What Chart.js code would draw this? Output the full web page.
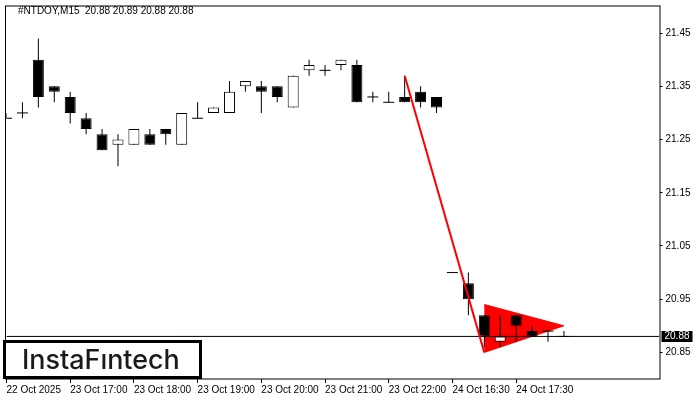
<!DOCTYPE html>
<html>
<head>
<meta charset="utf-8">
<script src="https://cdn.jsdelivr.net/npm/chart.js@4.4.1/dist/chart.umd.min.js"></script>
<style>
  html, body { margin: 0; padding: 0; background: #fff; }
  #wrap { width: 700px; height: 400px; }
</style>
</head>
<body>
<div id="wrap"><canvas id="priceChart"></canvas></div>
<script>
const symbolTitle = '#NTDOY,M15  20.88 20.89 20.88 20.88';
const brandName = 'InstaF\u0131ntech';

// M15 candles, oldest first
const opens  = [21.29, 21.30, 21.40, 21.35, 21.33, 21.29, 21.26, 21.24, 21.24, 21.26, 21.27, 21.24,
                21.29, 21.30, 21.30, 21.35, 21.35, 21.35, 21.31, 21.38, 21.38, 21.39, 21.39, 21.33,
                21.32, 21.33, 21.34, 21.33, 21.00, 20.98, 20.92, 20.87, 20.92, 20.89, 20.89, 20.88];
const highs  = [21.30, 21.32, 21.44, 21.35, 21.34, 21.30, 21.27, 21.26, 21.27, 21.27, 21.27, 21.30,
                21.32, 21.31, 21.36, 21.36, 21.36, 21.35, 21.37, 21.40, 21.39, 21.40, 21.40, 21.34,
                21.34, 21.37, 21.35, 21.33, 21.00, 21.00, 20.92, 20.92, 20.92, 20.90, 20.89, 20.89];
const lows   = [21.29, 21.29, 21.31, 21.32, 21.28, 21.26, 21.23, 21.20, 21.24, 21.24, 21.24, 21.24,
                21.29, 21.30, 21.30, 21.34, 21.30, 21.32, 21.31, 21.37, 21.37, 21.38, 21.32, 21.32,
                21.32, 21.32, 21.31, 21.30, 21.00, 20.92, 20.86, 20.86, 20.87, 20.88, 20.87, 20.88];
const closes = [21.29, 21.30, 21.33, 21.34, 21.30, 21.27, 21.23, 21.25, 21.27, 21.24, 21.26, 21.30,
                21.29, 21.31, 21.34, 21.36, 21.34, 21.33, 21.37, 21.39, 21.38, 21.40, 21.32, 21.33,
                21.32, 21.32, 21.32, 21.31, 21.00, 20.95, 20.88, 20.88, 20.90, 20.88, 20.89, 20.88];

const xTickIndex  = [0, 4, 8, 12, 16, 20, 24, 28, 32];
const xTickLabels = ['22 Oct 2025', '23 Oct 17:00', '23 Oct 18:00', '23 Oct 19:00', '23 Oct 20:00',
                     '23 Oct 21:00', '23 Oct 22:00', '24 Oct 16:30', '24 Oct 17:30'];
const priceTicks  = [20.85, 20.95, 21.05, 21.15, 21.25, 21.35, 21.45];
const lastPrice = 20.88;

// bearish pennant marked by the scanner
const poleX = [25, 30];
const poleY = [21.37, 20.85];
const pennantX = [30, 35, 30];
const pennantY = [20.94, 20.90, 20.85];

const axisFont = { family: 'Liberation Sans', size: 10 };

const bodies = opens.map((o, i) => ({ x: i, y: [o, closes[i]] }));
const wicks = opens.map((o, i) => ({ x: i, y: [lows[i], highs[i]] }));
const dojis = opens.map((o, i) => ({ x: i, y: o })).filter((p, i) => opens[i] === closes[i]);
const bodyFill = opens.map((o, i) => (closes[i] > o ? '#FFFFFF' : '#000000'));

const frameAndLabels = {
  id: 'frameAndLabels',
  afterDraw(chart) {
    const { ctx, chartArea: a } = chart;
    const y = chart.scales.y;
    ctx.save();
    // plot frame
    ctx.strokeStyle = '#000';
    ctx.lineWidth = 1;
    ctx.strokeRect(a.left - 1, a.top - 0.5, a.width + 1.5, a.height + 0.5);

    // symbol line
    ctx.fillStyle = '#000';
    ctx.font = '10px "Liberation Sans"';
    ctx.textBaseline = 'middle';
    ctx.fillText(symbolTitle, 18, 11);

    // current price tag
    const py = y.getPixelForValue(lastPrice);
    ctx.fillStyle = '#000';
    ctx.fillRect(a.right + 2, Math.round(py) - 5, 31, 11);
    ctx.fillStyle = '#fff';
    ctx.fillText(lastPrice.toFixed(2), a.right + 5, Math.round(py) + 0.5);

    // brand box
    ctx.fillStyle = '#fff';
    ctx.fillRect(3, 340, 199, 39);
    ctx.lineWidth = 3;
    ctx.strokeRect(4.5, 341.5, 196, 36);
    ctx.fillStyle = '#1a1a1a';
    let size = 28;
    ctx.font = '500 ' + size + 'px Inter';
    size = size * 158 / ctx.measureText(brandName).width;
    ctx.font = '500 ' + size.toFixed(1) + 'px Inter';
    ctx.textBaseline = 'alphabetic';
    ctx.fillText(brandName, 22, 368.5);
    ctx.restore();
  }
};

new Chart(document.getElementById('priceChart'), {
  type: 'bar',
  data: {
    datasets: [
      {
        type: 'line',
        data: poleX.map((x, i) => ({ x, y: poleY[i] })),
        borderColor: '#FF0000',
        borderWidth: 2,
        pointRadius: 0,
        order: 0
      },
      {
        type: 'line',
        data: [{ x: 0, y: lastPrice }, { x: 41, y: lastPrice }],
        borderColor: '#000000',
        borderWidth: 1,
        pointRadius: 0,
        order: 1
      },
      {
        type: 'line',
        data: dojis,
        showLine: false,
        pointStyle: 'line',
        pointRadius: 5.5,
        pointBorderColor: '#000000',
        pointBorderWidth: 1,
        order: 2
      },
      {
        type: 'bar',
        data: bodies,
        backgroundColor: bodyFill,
        borderColor: '#000000',
        borderWidth: 1,
        borderSkipped: false,
        barThickness: 11,
        inflateAmount: 0,
        grouped: false,
        order: 3
      },
      {
        type: 'bar',
        data: wicks,
        backgroundColor: '#000000',
        borderWidth: 0,
        barThickness: 1,
        inflateAmount: 0,
        grouped: false,
        order: 4
      },
      {
        type: 'line',
        data: pennantX.map((x, i) => ({ x, y: pennantY[i] })),
        borderColor: '#FF0000',
        borderWidth: 1,
        backgroundColor: '#FF0000',
        fill: 'shape',
        pointRadius: 0,
        order: 5
      }
    ]
  },
  options: {
    responsive: true,
    maintainAspectRatio: false,
    animation: false,
    events: [],
    layout: { padding: { left: 3.5, top: 3, right: 0, bottom: 0 } },
    plugins: {
      legend: { display: false },
      tooltip: { enabled: false },
      title: { display: false }
    },
    scales: {
      x: {
        type: 'linear',
        min: 0,
        max: 41,
        offset: false,
        afterBuildTicks: s => { s.ticks = xTickIndex.map(v => ({ value: v })); },
        afterFit: s => { s.height = 21; s.paddingLeft = 0; s.paddingRight = 0; },
        grid: { offset: false, drawOnChartArea: false, drawTicks: true, tickLength: 4, color: '#000' },
        border: { display: false },
        ticks: {
          autoSkip: false,
          maxRotation: 0,
          align: 'start',
          padding: 1,
          color: '#000',
          font: axisFont,
          callback: v => xTickLabels[xTickIndex.indexOf(v)]
        }
      },
      y: {
        position: 'right',
        min: 20.80,
        max: 21.50,
        afterBuildTicks: s => { s.ticks = priceTicks.map(v => ({ value: v })); },
        afterFit: s => { s.width = 40.5; s.paddingTop = 0; s.paddingBottom = 0; },
        grid: { drawOnChartArea: false, drawTicks: true, tickLength: 3, color: '#000' },
        border: { display: false },
        ticks: {
          padding: 3,
          crossAlign: 'near',
          color: '#000',
          font: axisFont,
          callback: v => v.toFixed(2)
        }
      }
    }
  },
  plugins: [frameAndLabels]
});
</script>
</body>
</html>
